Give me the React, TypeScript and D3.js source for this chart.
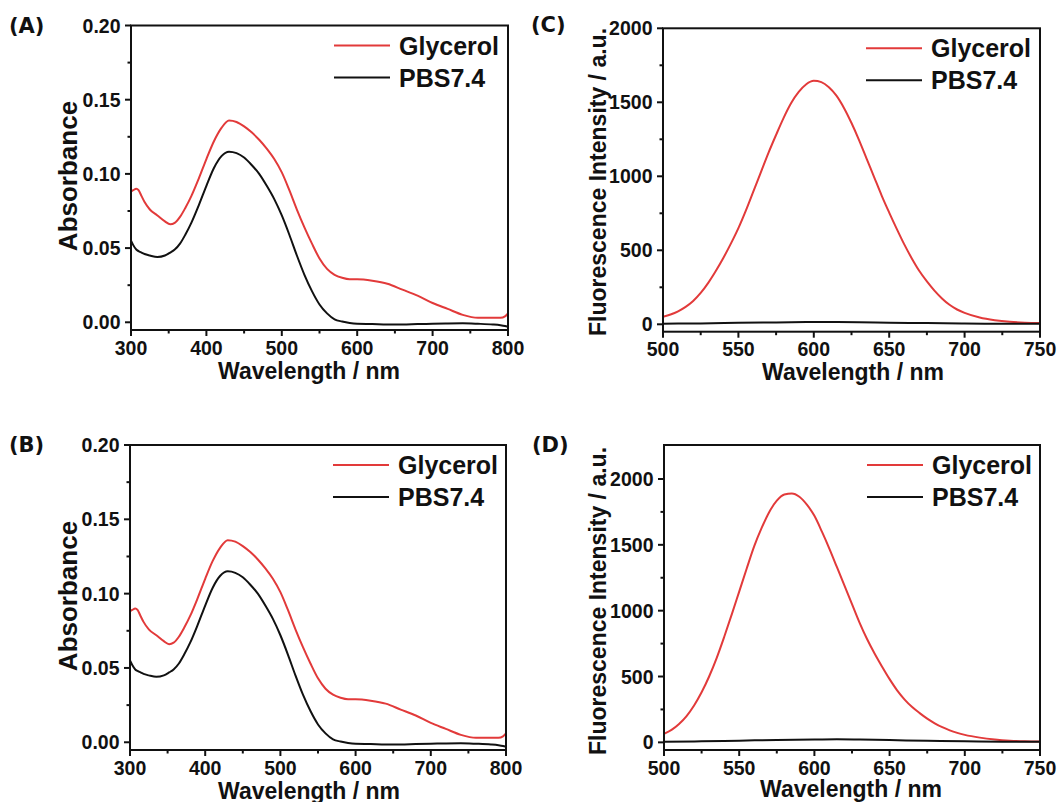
import React from "react";
import * as d3 from "d3";

// ---- Absorption spectra (A, B) ----
const ABS_NM = [300, 303, 307, 310, 314, 318, 325, 335, 345, 352, 358, 365, 372, 380, 390, 400, 410, 420, 430, 440, 450, 460, 470, 480, 490, 500, 510, 520, 530, 540, 550, 560, 570, 580, 590, 600, 620, 640, 660, 680, 700, 720, 740, 760, 780, 790, 796, 800];
const ABS_GLYCEROL = [0.088, 0.089, 0.090, 0.089, 0.085, 0.081, 0.076, 0.072, 0.068, 0.066, 0.067, 0.071, 0.077, 0.085, 0.097, 0.110, 0.122, 0.131, 0.136, 0.135, 0.132, 0.128, 0.123, 0.117, 0.110, 0.101, 0.089, 0.076, 0.064, 0.053, 0.043, 0.036, 0.032, 0.030, 0.029, 0.029, 0.028, 0.026, 0.022, 0.018, 0.013, 0.009, 0.005, 0.003, 0.003, 0.003, 0.004, 0.006];
const ABS_PBS = [0.055, 0.052, 0.049, 0.048, 0.047, 0.046, 0.045, 0.044, 0.045, 0.047, 0.049, 0.053, 0.059, 0.067, 0.079, 0.092, 0.104, 0.112, 0.115, 0.114, 0.111, 0.106, 0.100, 0.092, 0.083, 0.072, 0.059, 0.045, 0.032, 0.021, 0.012, 0.006, 0.002, 0.0005, -0.0005, -0.001, -0.0012, -0.0015, -0.0015, -0.0012, -0.001, -0.0008, -0.0007, -0.001, -0.0015, -0.002, -0.0025, -0.003];

// ---- Emission spectra (C) ----
const FL_NM = [500, 505, 510, 515, 520, 525, 530, 535, 540, 545, 550, 555, 560, 565, 570, 575, 580, 585, 590, 595, 600, 605, 610, 615, 620, 625, 630, 635, 640, 645, 650, 655, 660, 665, 670, 675, 680, 685, 690, 695, 700, 710, 720, 730, 740, 750];
const FL_C_GLYCEROL = [50, 66, 88, 118, 158, 212, 280, 360, 448, 545, 650, 770, 900, 1030, 1160, 1280, 1395, 1495, 1570, 1622, 1645, 1636, 1602, 1545, 1462, 1360, 1245, 1120, 995, 870, 755, 645, 540, 445, 360, 290, 228, 175, 132, 100, 77, 46, 28, 17, 11, 8];
const FL_PBS_NM = [500, 525, 550, 575, 600, 615, 630, 650, 675, 700, 725, 750];
const FL_C_PBS = [4, 6, 10, 13, 15, 15, 14, 11, 8, 5, 4, 3];

// ---- Emission spectra (D) ----
const FL_D_GLYCEROL = [65, 95, 140, 200, 280, 380, 500, 640, 800, 970, 1145, 1320, 1490, 1630, 1750, 1835, 1882, 1890, 1865, 1805, 1720, 1600, 1470, 1330, 1190, 1050, 910, 785, 675, 575, 480, 395, 325, 268, 222, 180, 145, 115, 91, 72, 57, 36, 22, 13, 8, 6];
const FL_D_PBS = [5, 8, 13, 18, 21, 23, 21, 17, 12, 8, 5, 4];

// ---- Axis ticks ----
const ABS_X_TICKS = [300, 400, 500, 600, 700, 800];
const ABS_Y_TICKS = [0, 0.05, 0.1, 0.15, 0.2];
const FL_X_TICKS = [500, 550, 600, 650, 700, 750];
const FL_Y_TICKS = [0, 500, 1000, 1500, 2000];

const SERIES_NAMES = ["Glycerol", "PBS7.4"];
const RED = "#e23a3a";
const BLACK = "#111";
const FONT = "'Liberation Sans', Arial, Helvetica, sans-serif";

type Series = { name: string; x: number[]; y: number[]; color: string };
type Panel = {
  id: string;
  tag: string;
  left: number; right: number; top: number; bottom: number;
  xDomain: [number, number]; yDomain: [number, number];
  xTicks: number[]; yTicks: number[];
  yFmt: (v: number) => string;
  yTitle: string; yTitleSize: number; yTitleX: number; yTitleY: number;
  xTitleX: number; xTitleDy: number;
  tagX: number; tagY: number;
  series: Series[];
};

const fmtAbs = d3.format(".2f");
const fmtInt = d3.format("d");

const panels: Panel[] = [
  {
    id: "A", tag: "(A)", left: 131, right: 508, top: 25.5, bottom: 330,
    xDomain: [300, 800], yDomain: [-0.0052, 0.2], xTicks: ABS_X_TICKS, yTicks: ABS_Y_TICKS, yFmt: fmtAbs,
    yTitle: "Absorbance", yTitleSize: 26, yTitleX: 77, yTitleY: 176, xTitleX: 309, xTitleDy: 49,
    tagX: 9, tagY: 33,
    series: [
      { name: SERIES_NAMES[0], x: ABS_NM, y: ABS_GLYCEROL, color: RED },
      { name: SERIES_NAMES[1], x: ABS_NM, y: ABS_PBS, color: BLACK },
    ],
  },
  {
    id: "C", tag: "(C)", left: 663, right: 1040, top: 28.3, bottom: 331.7,
    xDomain: [500, 750], yDomain: [-50, 2000], xTicks: FL_X_TICKS, yTicks: FL_Y_TICKS, yFmt: fmtInt,
    yTitle: "Fluorescence Intensity / a.u.", yTitleSize: 23, yTitleX: 606, yTitleY: 182, xTitleX: 853, xTitleDy: 48,
    tagX: 531, tagY: 32,
    series: [
      { name: SERIES_NAMES[0], x: FL_NM, y: FL_C_GLYCEROL, color: RED },
      { name: SERIES_NAMES[1], x: FL_PBS_NM, y: FL_C_PBS, color: BLACK },
    ],
  },
  {
    id: "B", tag: "(B)", left: 130, right: 506, top: 445, bottom: 750,
    xDomain: [300, 800], yDomain: [-0.0052, 0.2], xTicks: ABS_X_TICKS, yTicks: ABS_Y_TICKS, yFmt: fmtAbs,
    yTitle: "Absorbance", yTitleSize: 26, yTitleX: 77, yTitleY: 596, xTitleX: 309, xTitleDy: 49,
    tagX: 9, tagY: 452,
    series: [
      { name: SERIES_NAMES[0], x: ABS_NM, y: ABS_GLYCEROL, color: RED },
      { name: SERIES_NAMES[1], x: ABS_NM, y: ABS_PBS, color: BLACK },
    ],
  },
  {
    id: "D", tag: "(D)", left: 664, right: 1040, top: 445, bottom: 750,
    xDomain: [500, 750], yDomain: [-58, 2258], xTicks: FL_X_TICKS, yTicks: FL_Y_TICKS, yFmt: fmtInt,
    yTitle: "Fluorescence Intensity / a.u.", yTitleSize: 23, yTitleX: 606, yTitleY: 601, xTitleX: 851, xTitleDy: 47,
    tagX: 532, tagY: 452,
    series: [
      { name: SERIES_NAMES[0], x: FL_NM, y: FL_D_GLYCEROL, color: RED },
      { name: SERIES_NAMES[1], x: FL_PBS_NM, y: FL_D_PBS, color: BLACK },
    ],
  },
];

function minorTicks(major: number[]): number[] {
  const out: number[] = [];
  for (let i = 0; i < major.length - 1; i++) out.push((major[i] + major[i + 1]) / 2);
  return out;
}

function SpectrumPanel({ p }: { p: Panel }) {
  const x = d3.scaleLinear().domain(p.xDomain).range([p.left, p.right]);
  const y = d3.scaleLinear().domain(p.yDomain).range([p.bottom, p.top]);
  const line = d3
    .line<[number, number]>()
    .x((d) => x(d[0]))
    .y((d) => y(d[1]))
    .curve(d3.curveMonotoneX);
  const clipId = `clip-${p.id}`;
  const major = 6;
  const minor = 3.5;
  const legendY = [p.top + 20, p.top + 52];
  const legendX0 = p.left + 203;
  const legendX1 = p.left + 259;

  return (
    <g>
      <defs>
        <clipPath id={clipId}>
          <rect x={p.left} y={p.top} width={p.right - p.left} height={p.bottom - p.top} />
        </clipPath>
      </defs>

      <g clipPath={`url(#${clipId})`}>
        {p.series.map((s) => (
          <path
            key={s.name}
            d={line(s.x.map((v, i) => [v, s.y[i]] as [number, number])) || ""}
            fill="none"
            stroke={s.color}
            strokeWidth={2}
            strokeLinejoin="round"
          />
        ))}
      </g>

      <rect x={p.left} y={p.top} width={p.right - p.left} height={p.bottom - p.top} fill="none" stroke="#111" strokeWidth={2} />

      {/* x axis ticks */}
      {p.xTicks.map((t) => (
        <g key={`xt${t}`}>
          <line x1={x(t)} x2={x(t)} y1={p.bottom} y2={p.bottom + major} stroke="#111" strokeWidth={2} />
          <text x={x(t)} y={p.bottom + 24.5} textAnchor="middle" fontFamily={FONT} fontWeight="bold" fontSize={19.5} fill="#111">
            {t}
          </text>
        </g>
      ))}
      {minorTicks(p.xTicks).map((t) => (
        <line key={`xm${t}`} x1={x(t)} x2={x(t)} y1={p.bottom} y2={p.bottom + minor} stroke="#111" strokeWidth={2} />
      ))}

      {/* y axis ticks */}
      {p.yTicks.map((t) => (
        <g key={`yt${t}`}>
          <line x1={p.left - major} x2={p.left} y1={y(t)} y2={y(t)} stroke="#111" strokeWidth={2} />
          <text x={p.left - 10.5} y={y(t)} dy="0.36em" textAnchor="end" fontFamily={FONT} fontWeight="bold" fontSize={19.5} fill="#111">
            {p.yFmt(t)}
          </text>
        </g>
      ))}
      {minorTicks(p.yTicks).map((t) => (
        <line key={`ym${t}`} x1={p.left - minor} x2={p.left} y1={y(t)} y2={y(t)} stroke="#111" strokeWidth={2} />
      ))}

      {/* axis titles */}
      <text x={p.xTitleX} y={p.bottom + p.xTitleDy} textAnchor="middle" fontFamily={FONT} fontWeight="bold" fontSize={23} fill="#111">
        Wavelength / nm
      </text>
      <text
        transform={`translate(${p.yTitleX},${p.yTitleY}) rotate(-90)`}
        textAnchor="middle"
        fontFamily={FONT}
        fontWeight="bold"
        fontSize={p.yTitleSize}
        fill="#111"
      >
        {p.yTitle}
      </text>

      {/* legend */}
      {p.series.map((s, i) => (
        <g key={`lg${s.name}`}>
          <line x1={legendX0} x2={legendX1} y1={legendY[i]} y2={legendY[i]} stroke={s.color} strokeWidth={2} />
          <text x={legendX1 + 9} y={legendY[i]} dy="0.36em" fontFamily={FONT} fontWeight="bold" fontSize={25} fill="#111">
            {s.name}
          </text>
        </g>
      ))}

      {/* panel tag */}
      <text x={p.tagX} y={p.tagY} fontFamily="'DejaVu Sans', sans-serif" fontWeight="bold" fontSize={21} fill="#111">
        {p.tag}
      </text>
    </g>
  );
}

export default function App() {
  return (
    <svg
      width={1059}
      height={802}
      viewBox="0 0 1059 802"
      style={{ position: "absolute", left: 0, top: 0, display: "block", background: "#fff" }}
    >
      <rect x={0} y={0} width={1059} height={802} fill="#fff" />
      {panels.map((p) => (
        <SpectrumPanel key={p.id} p={p} />
      ))}
    </svg>
  );
}
